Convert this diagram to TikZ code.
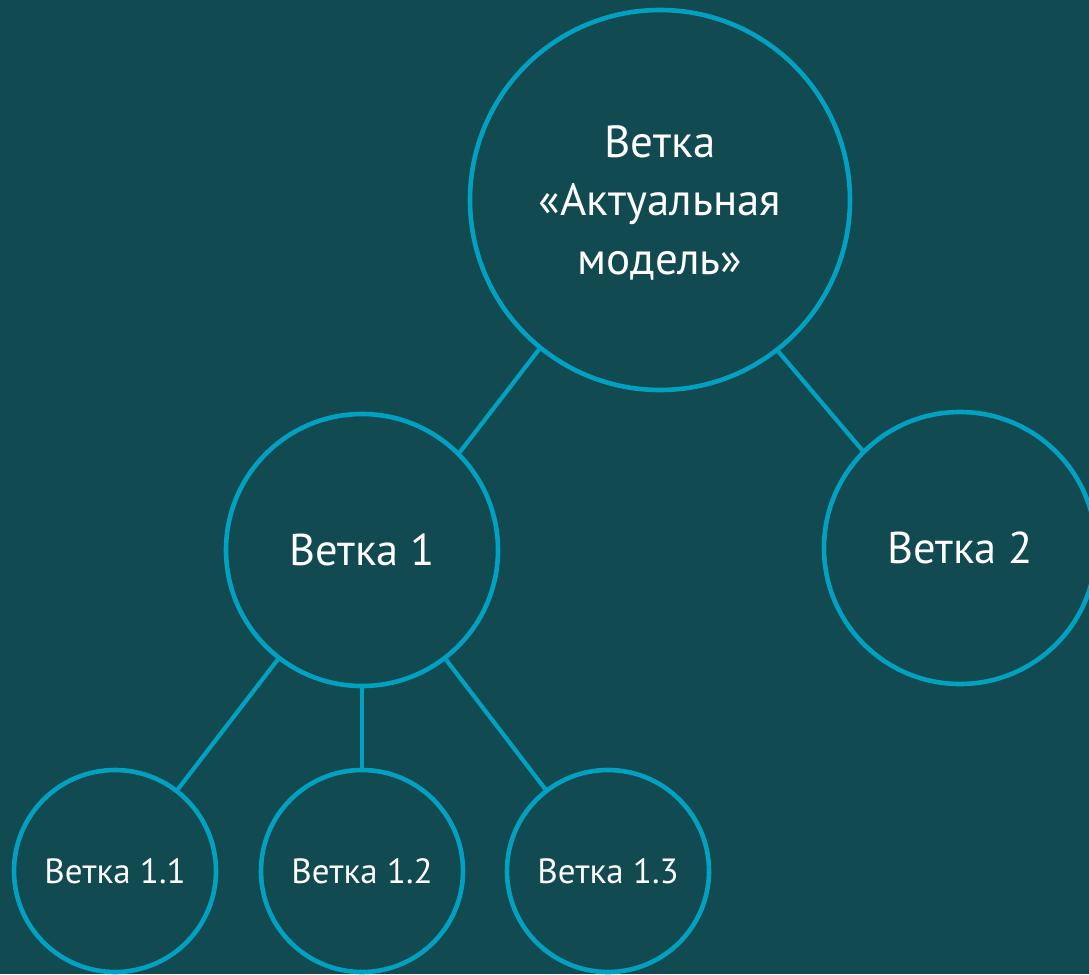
\documentclass[tikz,border=0pt]{standalone}
\usepackage{fontspec}
\setmainfont{PT Sans}
\definecolor{bgc}{RGB}{17,74,80}
\definecolor{ringc}{RGB}{3,161,193}
\begin{document}
\begin{tikzpicture}[x=1pt,y=-1pt,
  ring/.style={circle,draw=ringc,line width=4.6pt,text=white,inner sep=0pt,align=center},
  bigring/.style={ring,minimum size=380pt,font=\fontsize{45}{58.5}\selectfont,text depth=0pt},
  midring/.style={ring,minimum size=272pt,font=\fontsize{44.5}{52}\selectfont},
  smallring/.style={ring,minimum size=202pt,font=\fontsize{35}{42}\selectfont},
  link/.style={draw=ringc,line width=4.2pt}]
\fill[bgc] (0,0) rectangle (1089,974);
\useasboundingbox (0,0) rectangle (1089,974);
\node[bigring] (top) at (660,200) {Ветка\\«Актуальная\\модель»};
\node[midring] (b1) at (362,550) {Ветка 1};
\node[midring] (b2) at (960,548) {Ветка 2};
\node[smallring] (b11) at (115,871) {Ветка 1.1};
\node[smallring] (b12) at (362,871) {Ветка 1.2};
\node[smallring] (b13) at (608,871) {Ветка 1.3};
\draw[link] (top.231.5) -- (b1.45);
\draw[link] (top.308.3) -- (b2.135);
\draw[link] (b1) -- (b11);
\draw[link] (b1) -- (b12);
\draw[link] (b1) -- (b13);
\end{tikzpicture}
\end{document}
